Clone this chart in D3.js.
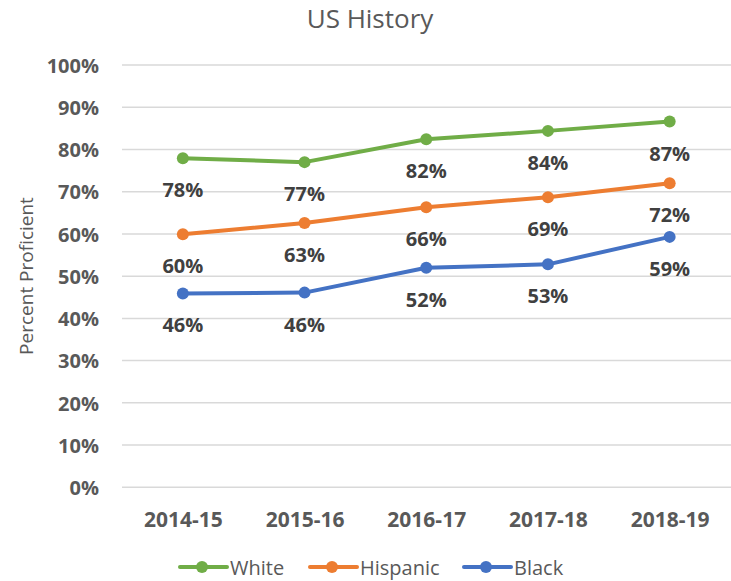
<!DOCTYPE html>
<html>
<head>
<meta charset="utf-8">
<script src="https://cdn.jsdelivr.net/npm/d3@7"></script>
<style>
  body { margin: 0; background: #fff; }
  text { font-family: "Open Sans", "Noto Sans", sans-serif; }
</style>
</head>
<body>
<svg id="chart" width="731" height="581"></svg>
<script>
// Data
const years = ["2014-15", "2015-16", "2016-17", "2017-18", "2018-19"];
const white = [0.779, 0.770, 0.824, 0.844, 0.866];
const hispanic = [0.599, 0.626, 0.663, 0.687, 0.720];
const black = [0.459, 0.461, 0.520, 0.528, 0.593];
const yTicks = [0, 0.1, 0.2, 0.3, 0.4, 0.5, 0.6, 0.7, 0.8, 0.9, 1.0];

const series = [
  { name: "White", values: white, color: "#70ad47" },
  { name: "Hispanic", values: hispanic, color: "#ed7d31" },
  { name: "Black", values: black, color: "#4472c4" },
];

const svg = d3.select("#chart");

// Scales
const x = d3.scalePoint().domain(years).range([122, 730.5]).padding(0.5);
const y = d3.scaleLinear().domain([0, 1]).range([487.3, 65]);
const pct = d3.format(".0%");

// Title
svg.append("text")
  .attr("x", 370)
  .attr("y", 28)
  .attr("text-anchor", "middle")
  .attr("font-size", "26px")
  .attr("fill", "#595959")
  .text("US History");

// Gridlines
svg.append("g")
  .selectAll("line")
  .data(yTicks)
  .join("line")
  .attr("x1", 122)
  .attr("x2", 731)
  .attr("y1", (d) => y(d))
  .attr("y2", (d) => y(d))
  .attr("stroke", "#d9d9d9")
  .attr("stroke-width", 1.5);

// Y axis labels
const yAxis = svg.append("g")
  .attr("transform", "translate(99,0)")
  .call(d3.axisLeft(y).tickValues(yTicks).tickFormat(pct).tickSize(0).tickPadding(0));
yAxis.select(".domain").remove();
yAxis.selectAll("text")
  .attr("font-family", "Open Sans")
  .attr("font-size", "20px")
  .attr("font-weight", "bold")
  .attr("fill", "#595959")
  .attr("dy", "0.36em");

// X axis labels
const xAxis = svg.append("g")
  .attr("transform", "translate(0,487.3)")
  .call(d3.axisBottom(x).tickSize(0).tickPadding(0));
xAxis.select(".domain").remove();
xAxis.selectAll("text")
  .attr("font-family", "Open Sans")
  .attr("font-size", "21px")
  .attr("font-weight", "bold")
  .attr("fill", "#595959")
  .attr("y", 39.4)
  .attr("dy", 0);

// Y axis title
svg.append("text")
  .attr("transform", "translate(33,276) rotate(-90)")
  .attr("text-anchor", "middle")
  .attr("font-size", "19px")
  .attr("fill", "#595959")
  .text("Percent Proficient");

// Lines, markers, labels
const line = d3.line()
  .x((d, i) => x(years[i]))
  .y((d) => y(d));

series.forEach((s) => {
  const g = svg.append("g").attr("class", "series");

  g.append("path")
    .attr("d", line(s.values))
    .attr("fill", "none")
    .attr("stroke", s.color)
    .attr("stroke-width", 4)
    .attr("stroke-linejoin", "round")
    .attr("stroke-linecap", "round");

  g.selectAll("circle")
    .data(s.values)
    .join("circle")
    .attr("cx", (d, i) => x(years[i]))
    .attr("cy", (d) => y(d))
    .attr("r", 6)
    .attr("fill", s.color);

  g.selectAll("text")
    .data(s.values)
    .join("text")
    .attr("x", (d, i) => x(years[i]))
    .attr("y", (d) => y(d) + 39)
    .attr("text-anchor", "middle")
    .attr("font-size", "20px")
    .attr("font-weight", "bold")
    .attr("fill", "#404040")
    .text((d) => pct(d));
});

// Legend
const legendX = [180, 310, 464];
const legend = svg.append("g").attr("transform", "translate(0,567)");
series.forEach((s, i) => {
  const lg = legend.append("g").attr("transform", `translate(${legendX[i]},0)`);
  lg.append("line")
    .attr("x1", 0)
    .attr("x2", 47)
    .attr("stroke", s.color)
    .attr("stroke-width", 4)
    .attr("stroke-linecap", "round");
  lg.append("circle")
    .attr("cx", 22)
    .attr("r", 6)
    .attr("fill", s.color);
  lg.append("text")
    .attr("x", 50)
    .attr("y", 7.5)
    .attr("font-size", "20px")
    .attr("fill", "#595959")
    .text(s.name);
});
</script>
</body>
</html>
